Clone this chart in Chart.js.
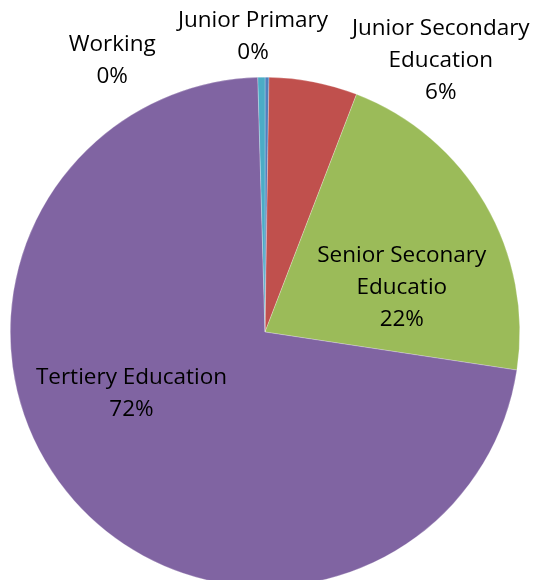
<!DOCTYPE html>
<html>
<head>
<meta charset="utf-8">
<script src="https://cdn.jsdelivr.net/npm/chart.js@4.4.0/dist/chart.umd.min.js"></script>
<style>
    html, body { margin: 0; padding: 0; background: #fff; }
    #wrap { width: 538px; height: 580px; overflow: hidden; position: relative; }
    canvas { display: block; }
</style>
</head>
<body>
<div id="wrap">
    <canvas id="eduChart" width="538" height="600"></canvas>
</div>
<script>
// Education level shares (percent)
const categories = ['Junior Primary', 'Junior Secondary Education', 'Senior Seconary Educatio', 'Tertiery Education', 'Working'];
const shares = [0.25, 5.6, 21.54, 72.16, 0.45];
const sliceColors = ['#4F81BD', '#C0504D', '#9BBB59', '#8064A2', '#4BACC6'];

// label text lines (the % line is added from the share) and where each block sits,
// in units of the pie radius from the centre
const labelLines = [
    ['Junior Primary'],
    ['Junior Secondary', 'Education'],
    ['Senior Seconary', 'Educatio'],
    ['Tertiery Education'],
    ['Working']
];
const labelSpots = [
    [-0.047, -1.161],
    [0.69, -1.065],
    [0.537, -0.173],
    [-0.524, 0.243],
    [-0.6, -1.067]
];

const pieLabels = {
    id: 'pieLabels',
    afterDatasetsDraw(chart) {
        const meta = chart.getDatasetMeta(0);
        const arc = meta.data[0];
        const cx = arc.x, cy = arc.y, r = arc.outerRadius;
        const ctx = chart.ctx;
        const lineH = 32;
        ctx.save();
        ctx.font = '22.5px "Open Sans"';
        ctx.fillStyle = '#000';
        ctx.textAlign = 'center';
        ctx.textBaseline = 'middle';
        labelLines.forEach((lines, i) => {
            const all = lines.concat([Math.round(shares[i]) + '%']);
            const x = cx + labelSpots[i][0] * r;
            const y0 = cy + labelSpots[i][1] * r - (all.length - 1) * lineH / 2;
            all.forEach((t, j) => ctx.fillText(t, x, y0 + j * lineH));
        });
        ctx.restore();
    }
};

new Chart(document.getElementById('eduChart').getContext('2d'), {
    type: 'pie',
    data: {
        labels: categories,
        datasets: [{
            data: shares,
            backgroundColor: sliceColors,
            borderColor: 'rgba(255, 255, 255, 0.5)',
            borderWidth: 0.5
        }]
    },
    options: {
        responsive: false,
        animation: false,
        layout: {
            padding: { left: 10, right: 18, top: 77, bottom: 13 }
        },
        plugins: {
            legend: { display: false },
            tooltip: { enabled: false }
        }
    },
    plugins: [pieLabels]
});
</script>
</body>
</html>
